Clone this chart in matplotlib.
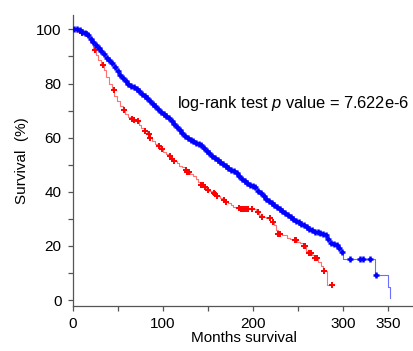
import numpy as np
import matplotlib
matplotlib.use("Agg")
import matplotlib.pyplot as plt
from matplotlib.ticker import FixedLocator, FuncFormatter

plt.rcParams['font.family'] = ['Liberation Sans', 'DejaVu Sans']
plt.rcParams['mathtext.fontset'] = 'custom'
plt.rcParams['mathtext.it'] = 'Liberation Sans:italic'
plt.rcParams['mathtext.rm'] = 'Liberation Sans'

# Blue group: step times (months) and survival (%)
blue_t = [0, 3, 6, 9, 12, 15, 18, 21, 24, 27, 30, 33, 36, 39, 42, 45, 48, 51, 54, 57,
          60, 63, 66, 69, 72, 75, 78, 81, 84, 87, 90, 93, 96, 99, 102, 105, 108, 111,
          114, 117, 120, 123, 126, 129, 132, 135, 138, 141, 144, 147, 150, 153, 156,
          159, 162, 165, 168, 171, 174, 177, 180, 183, 186, 189, 192, 195, 198, 201,
          204, 207, 210, 213, 216, 219, 222, 225, 228, 231, 234, 237, 240, 243, 246,
          249, 252, 255, 258, 261, 264, 267, 270, 273, 276, 279, 282, 285, 288, 291,
          294, 297, 300, 335, 350, 352]
blue_s = [100, 100, 99.6, 99.2, 98.6, 97.8, 96.5, 95.2, 94.2, 93.1, 92, 90.8, 89.6, 88.6,
          87.6, 86, 84.6, 83.2, 82, 80.8, 80, 79.2, 78.6, 77.8, 77.2, 76.3, 75.4, 74.6,
          73.7, 72.6, 71.6, 70.6, 69.6, 68.8, 68, 67.2, 66.2, 65.2, 64, 62.8, 61.6, 60.5,
          59.7, 59.1, 58.6, 58.1, 57.6, 57.1, 56.2, 55.2, 54.3, 53.4, 52.5, 51.7, 51,
          50.3, 49.6, 48.9, 48.2, 47.5, 46.9, 46, 44.8, 43.8, 43.2, 42.6, 42.1, 41.6,
          40.4, 39.4, 38.4, 37.5, 36.7, 36, 35.2, 34.4, 33.6, 32.9, 32.1, 31.4, 30.7,
          30, 29.3, 28.7, 28.2, 27.6, 27, 26.4, 25.8, 25.3, 25.1, 24.9, 24.5, 24, 22.5,
          20.9, 20.6, 20.2, 19.2, 17.8, 15.1, 9.2, 4.9, 0.6]
blue_end = 352
blue_censor = [1.5, 4.5, 7.5, 10.5, 13.5, 16.5, 19.5, 22.5, 25.5, 28.5, 31.5, 34.5, 37.5,
               40.5, 43.5, 46.5, 49.5, 52.5, 55.5, 58.5, 61.5, 64.5, 67.5, 70.5, 73.5,
               76.5, 79.5, 82.5, 85.5, 88.5, 91.5, 94.5, 97.5, 100.5, 103.5, 106.5,
               109.5, 112.5, 115.5, 118.5, 121.5, 124.5, 127.5, 130.5, 133.5, 136.5,
               139.5, 142.5, 145.5, 148.5, 151.5, 154.5, 157.5, 160.5, 163.5, 166.5,
               169.5, 172.5, 175.5, 178.5, 181.5, 184.5, 187.5, 190.5, 193.5, 196.5,
               199.5, 202.5, 205.5, 208.5, 211.5, 214.5, 217.5, 220.5, 223.5, 226.5,
               229.5, 232.5, 235.5, 238.5, 241.5, 244.5, 247.5, 250.5, 253.5, 256.5,
               259.5, 262.5, 265.5, 268.5, 271.5, 274.5, 277.5, 280.5, 283.5, 286.5,
               289.5, 292.5, 295.5, 298.5, 307, 319, 322, 330, 336]

# Red group
red_t = [0, 5, 8, 13, 16, 19, 22, 25, 28, 31, 34, 37, 40, 43, 46, 49, 52, 55, 58, 61, 64,
         67, 70, 73, 76, 79, 82, 85, 88, 91, 94, 97, 100, 103, 106, 109, 112, 115, 118,
         121, 124, 127, 130, 133, 136, 139, 142, 145, 148, 151, 154, 157, 160, 163, 166,
         169, 172, 175, 178, 181, 185, 195, 203, 206, 209, 214, 221, 223, 225, 227, 232,
         237, 241, 246, 249, 252, 255, 259, 262, 265, 268, 272, 275, 278, 282]
red_s = [100, 99, 98.5, 98.3, 97.3, 95.5, 92.5, 90.5, 88.5, 86.8, 85, 82.5, 80, 77.5,
         75.5, 73.5, 71.8, 70.3, 68.8, 67.6, 67, 66.5, 66, 64.8, 63.6, 62.5, 61.3, 59.8,
         58.7, 57.8, 56.8, 55.8, 54.8, 54, 53.1, 52.2, 51.3, 50.5, 49.7, 49, 48.2, 47.4,
         46.7, 45.8, 44.9, 43.7, 42.6, 41.6, 40.6, 40.2, 39.6, 39.1, 38.6, 37.8, 37.1,
         36.4, 35.8, 35.1, 34.4, 33.9, 33.7, 33.6, 32.5, 31.5, 30.8, 30.4, 29, 27.7, 26,
         24.4, 24.2, 22.8, 22.5, 22.2, 21.5, 20.9, 19.8, 18.2, 17.4, 16.6, 15.5, 14.1,
         12.5, 10.8, 5.5]
red_end = 287
red_censor = [10, 15, 24, 33, 45, 57, 66, 68, 72, 80, 84, 86, 96, 99, 108, 110, 112, 125,
              127, 129, 142, 144, 146, 150, 156, 158, 160, 168, 170, 184, 186, 188, 190,
              192, 194, 199, 205, 210, 219, 222, 228, 230, 246, 248, 256, 258, 262, 264,
              269, 271, 279, 287]

def surv_at(times, surv, x):
    idx = np.searchsorted(np.asarray(times), np.asarray(x), side='right') - 1
    return np.asarray(surv)[idx]

fig = plt.figure(figsize=(4.14, 3.51), dpi=100)
ax = fig.add_axes([0.1763, 0.1282, 0.8237, 0.8290])

# red
rt = list(red_t) + [red_end]
rs = list(red_s) + [red_s[-1]]
ax.step(rt, rs, where='post', color='#ff5050', lw=0.8, alpha=0.8, zorder=2)
ax.plot(red_censor, surv_at(red_t, red_s, red_censor), ls='none', marker='+',
        color='#ff0000', ms=4.5, mew=1.4, zorder=3)

# blue
bt = list(blue_t) + [blue_end]
bs = list(blue_s) + [blue_s[-1]]
ax.step(bt, bs, where='post', color='#4848ff', lw=0.8, alpha=0.8, zorder=2)
ax.plot(blue_censor, surv_at(blue_t, blue_s, blue_censor), ls='none', marker='+',
        color='#0000ff', ms=5, mew=1.8, zorder=3)

ax.set_xlim(0, 378.5)
ax.set_ylim(-2.2, 105.3)

for s in ['top', 'right']:
    ax.spines[s].set_visible(False)
for s in ['left', 'bottom']:
    ax.spines[s].set_color('#555555')
    ax.spines[s].set_linewidth(0.9)

ax.xaxis.set_major_locator(FixedLocator([0, 50, 100, 150, 200, 250, 300, 350]))
ax.xaxis.set_major_formatter(FuncFormatter(
    lambda v, p: f"{int(v)}" if int(v) in (0, 100, 200, 300, 350) else ""))
ax.yaxis.set_major_locator(FixedLocator(list(range(0, 101, 10))))
ax.yaxis.set_major_formatter(FuncFormatter(
    lambda v, p: f"{int(v)}" if int(v) % 20 == 0 else ""))
ax.tick_params(direction='out', length=3.6, width=0.9, color='#555555',
               labelsize=11, pad=4.5)

ax.set_xlabel('Months survival', fontsize=11, labelpad=0)
ax.set_ylabel('Survival  (%)', fontsize=11, labelpad=5)

ax.text(116, 72.5, 'log-rank test $\\it{p}$ value = 7.622e-6', fontsize=11.8,
        va='center', ha='left')

fig.savefig('out.png', dpi=100)
